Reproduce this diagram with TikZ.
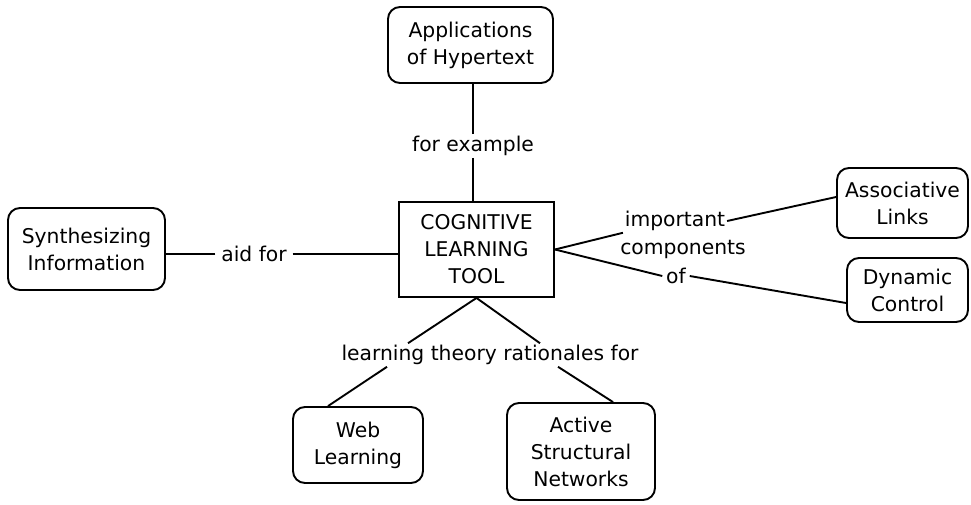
\documentclass[tikz,border=0pt]{standalone}
\usepackage{fontspec}
\setmainfont{DejaVu Sans}
\usetikzlibrary{positioning,calc}

\begin{document}
\begin{tikzpicture}[
  x=1pt, y=-1pt,
  line width=1.9pt,
  every node/.style={font=\fontsize{20.3}{27}\selectfont},
  concept/.style={draw, rounded corners=12pt, align=center, inner sep=0pt},
  link/.style={inner xsep=5pt, inner ysep=1pt}
]
\useasboundingbox (0,0) rectangle (971,504);

\node (clt)   [draw, rectangle, align=center, minimum width=155pt, minimum height=95pt] at (476.5,249.5)
              {COGNITIVE\\LEARNING\\TOOL};
\node (app)   [concept, minimum width=165pt, minimum height=76pt] at (470.5,45)  {Applications\\of Hypertext};
\node (synth) [concept, minimum width=157pt, minimum height=82pt] at (86.5,249)  {Synthesizing\\Information};
\node (assoc) [concept, minimum width=131pt, minimum height=70pt] at (902.5,203) {Associative\\Links};
\node (dyn)   [concept, minimum width=121pt, minimum height=64pt] at (907.5,290) {Dynamic\\Control};
\node (web)   [concept, minimum width=130pt, minimum height=76pt] at (358,445)   {Web\\Learning};
\node (asn)   [concept, minimum width=148pt, minimum height=97pt] at (581,451.5) {Active\\Structural\\Networks};

% linking phrases
\node (forex)  [link] at (473,146) {for example};
\node (aidfor) [link] at (254,254) {aid for};
\node (imp)    [link] at (675,221) {important};
\node (comp)   [link] at (683,249) {components};
\node (of)     [link] at (676,276) {of};
\node (lrt)    [link] at (490,355) {learning theory rationales for};

\draw (forex) -- (forex |- app.south);
\draw (forex) -- (forex |- clt.north);
\draw (aidfor) -- (aidfor -| synth.east);
\draw (aidfor) -- (aidfor -| clt.west);
\draw (clt.east) -- ([xshift=4pt]imp.south west);
\draw ([xshift=-4pt]imp.east) -- ([yshift=6pt]assoc.west);
\draw (clt.east) -- ([xshift=2pt]of.west);
\draw ([xshift=-2pt]of.east)  -- ([yshift=-13pt]dyn.west);
\draw (clt.south) -- ([xshift=-82pt]lrt.north);
\draw (clt.south) -- ([xshift=50pt]lrt.north);
\draw ([xshift=-103pt]lrt.south) -- ([xshift=-30pt]web.north);
\draw ([xshift=68pt]lrt.south)   -- ([xshift=32pt]asn.north);
\end{tikzpicture}
\end{document}
